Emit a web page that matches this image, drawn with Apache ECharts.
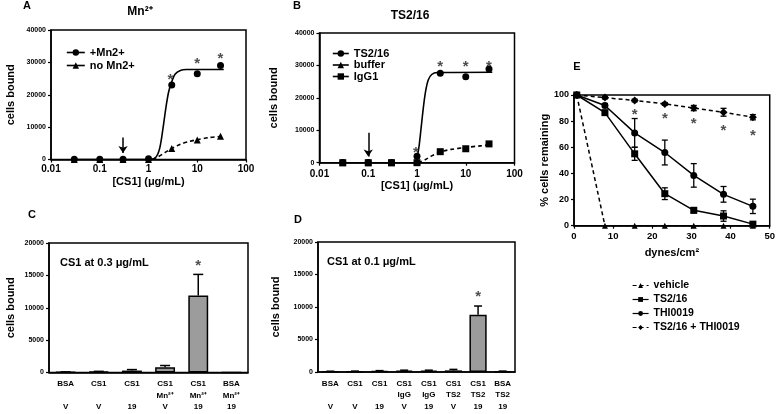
<!DOCTYPE html>
<html><head><meta charset="utf-8">
<script src="https://cdn.jsdelivr.net/npm/echarts@6/dist/echarts.min.js"></script>
<style>html,body{margin:0;padding:0;background:#fff}#c{width:778px;height:414px}</style>
</head><body><div id="c"></div>
<script>
// ---------- Panel A ----------
const concA = [0.03, 0.1, 0.3, 1, 3, 10, 30];
const mnPlus = [100, 100, 100, 200, 23000, 26500, 29000];
const noMn = [0, 0, 0, 0, 3400, 6000, 7200];
const fitMnPlus = [[0.03,0],[1,0],[1.4,600],[1.7,3500],[2,10000],[2.3,16500],[2.6,21000],[3,24000],[3.5,26300],[4.5,27500],[6,27800],[35,27800]];
const fitNoMn = [[1.2,0],[1.6,900],[2.2,2200],[3,3400],[4.5,4700],[7,5600],[10,6100],[18,6800],[35,7200]];
const starsA = [[2.8,25800],[10,30800],[30,32300]];
const arrowA = [[0.3,6800],[0.3,2000]];
// ---------- Panel B ----------
const concB = [0.03, 0.1, 0.3, 1, 3, 10, 30];
const ts216B = [100, 100, 100, 2000, 27600, 26500, 28900];
const bufferB = [0, 0, 0, 400, null, null, null];
const igg1B = [0, 0, 0, 0, 3400, 4300, 5800];
const fitTs216 = [[0.03,0],[0.9,0],[1,1500],[1.1,5000],[1.2,10000],[1.35,17000],[1.5,22000],[1.7,25500],[2,27200],[2.6,27800],[35,27900]];
const fitIgg1 = [[1.05,0],[1.5,1000],[2,2100],[3,3300],[5,4100],[10,4700],[20,5200],[35,5600]];
const starsB = [[0.95,4200],[3,30800],[10,30800],[30,30800]];
const arrowB = [[0.1,9200],[0.1,1900]];
const logTicks = ['0.01','0.1','1','10','100'];
// ---------- Panel C ----------
const catCtop = ['BSA','CS1','CS1','CS1','CS1','BSA'];
const catCmid = ['','','','Mn²⁺','Mn²⁺','Mn²⁺'];
const catCbot = ['V','V','19','V','19','19'];
const valsC = [60, 120, 300, 800, 11900, 0];
const errC = [40, 60, 150, 280, 3250, 0];
const starsC = [[4,17100]];
// ---------- Panel D ----------
const catDtop = ['BSA','CS1','CS1','CS1','CS1','CS1','CS1','BSA'];
const catDmid = ['','','','IgG','IgG','TS2','TS2','TS2'];
const catDbot = ['V','V','19','V','19','V','19','19'];
const valsD = [80, 100, 150, 200, 200, 250, 8800, 100];
const errD = [40, 40, 60, 80, 80, 150, 1350, 40];
const starsD = [[6,12100]];
// ---------- Panel E ----------
const shearX = [0.7, 7.9, 15.5, 23.2, 30.6, 38.2, 45.7];
const vehicleE = [100, 0, 0, 0, 0, 0, 0];
const ts216E = [100, 86.5, 55, 24.5, 11.8, 7.4, 1.2];
const ts216Err = [0, 1.5, 5, 4.5, 2, 4, 1];
const thiE = [100, 92, 71, 56, 38.5, 24, 14.8];
const thiErr = [0, 1.5, 11, 9.5, 9, 6, 5.5];
const comboE = [100, 98, 95.8, 93.2, 90, 86.8, 83];
const comboErr = [0, 1, 1, 1, 2, 3, 2];
const starsE = [[15.5,88],[23.2,84.5],[30.6,81],[38.2,76],[45.7,71.5]];

const FF = 'Liberation Sans, Arial, sans-serif';
const K = '#000';
const chart = echarts.init(document.getElementById('c'), null, {renderer:'canvas'});

function axisBase(fs){
  return {
    axisLine:{show:true, onZero:false, lineStyle:{color:K, width:1.5}},
    axisTick:{show:true, length:3, lineStyle:{color:K, width:1.2}},
    splitLine:{show:false},
    axisLabel:{color:K, fontWeight:'bold', fontFamily:FF, fontSize:fs}
  };
}
function nameStyle(){ return {color:K, fontWeight:'bold', fontFamily:FF, fontSize:11}; }
function logFmt(v){ const i = Math.round(Math.log10(v)) + 2; return logTicks[i] || ''; }
function plainFmt(v){ return String(v); }
function zip(x, y){ return x.map((v,i)=>[v, y[i]]); }
function catLabels(t,m,b){ return t.map((s,i)=>s+'\n'+m[i]+'\n'+b[i]); }

function starSeries(x, y, data){
  return {type:'scatter', xAxisIndex:x, yAxisIndex:y, data:data, symbolSize:1, itemStyle:{color:'rgba(0,0,0,0)'},
    label:{show:true, formatter:'*', position:'inside', offset:[0,4], color:'#222', fontWeight:'bold', fontFamily:FF, fontSize:15}, silent:true, z:10};
}
function errUp(capW){
  return function(params, api){
    const i = api.value(0), v = api.value(1), e = api.value(2);
    if (!e) return null;
    const p0 = api.coord([i, v]), p1 = api.coord([i, v + e]);
    return {type:'group', children:[
      {type:'line', shape:{x1:p0[0], y1:p0[1], x2:p1[0], y2:p1[1]}, style:{stroke:K, lineWidth:1.5}},
      {type:'line', shape:{x1:p1[0]-capW/2, y1:p1[1], x2:p1[0]+capW/2, y2:p1[1]}, style:{stroke:K, lineWidth:1.5}}
    ]};
  };
}
function errBoth(capW){
  return function(params, api){
    const x = api.value(0), v = api.value(1), e = api.value(2);
    if (!e) return null;
    const p0 = api.coord([x, v - e]), p1 = api.coord([x, v + e]);
    return {type:'group', children:[
      {type:'line', shape:{x1:p0[0], y1:p0[1], x2:p1[0], y2:p1[1]}, style:{stroke:K, lineWidth:1.3}},
      {type:'line', shape:{x1:p0[0]-capW/2, y1:p0[1], x2:p0[0]+capW/2, y2:p0[1]}, style:{stroke:K, lineWidth:1.3}},
      {type:'line', shape:{x1:p1[0]-capW/2, y1:p1[1], x2:p1[0]+capW/2, y2:p1[1]}, style:{stroke:K, lineWidth:1.3}}
    ]};
  };
}
function pointSeries(name, x, y, data, symbol, size){
  return {name:name, type:'line', xAxisIndex:x, yAxisIndex:y, data:data, symbol:symbol, symbolSize:size,
    itemStyle:{color:K}, lineStyle:{opacity:0, width:0}, z:5};
}
function curveSeries(x, y, data, dashed){
  return {type:'line', xAxisIndex:x, yAxisIndex:y, data:data, showSymbol:false, symbol:'none', smooth:0.3,
    lineStyle:{color:K, width:1.6, type: dashed ? [4,3] : 'solid'}, z:3, silent:true};
}
function arrowSeries(x, y, pts){
  return {type:'scatter', xAxisIndex:x, yAxisIndex:y, data:[], silent:true,
    markLine:{silent:true, symbol:['none','arrow'], symbolSize:7, animation:false, label:{show:false},
      lineStyle:{color:K, width:1.5, type:'solid'},
      data:[[{coord:pts[0]},{coord:pts[1]}]]}};
}
const gridStyle = {show:true, borderColor:K, borderWidth:1.5, backgroundColor:'transparent', containLabel:false};
const legText = {color:K, fontWeight:'bold', fontFamily:FF, fontSize:11};

const option = {
  animation:false,
  backgroundColor:'#fff',
  grid:[
    Object.assign({left:51, top:30, width:195, height:129.5}, gridStyle),
    Object.assign({left:319.5, top:33, width:195, height:129.7}, gridStyle),
    Object.assign({left:49, top:243, width:199, height:129.5}, gridStyle),
    Object.assign({left:318, top:242, width:197, height:130}, gridStyle),
    Object.assign({left:574, top:95, width:198, height:130.7}, gridStyle)
  ],
  xAxis:[
    Object.assign(axisBase(10), {gridIndex:0, type:'log', logBase:10, min:0.01, max:100, name:'[CS1] (μg/mL)', nameLocation:'middle', nameGap:17, nameTextStyle:nameStyle()}),
    Object.assign(axisBase(10), {gridIndex:1, type:'log', logBase:10, min:0.01, max:100, name:'[CS1] (μg/mL)', nameLocation:'middle', nameGap:16, nameTextStyle:nameStyle()}),
    Object.assign(axisBase(8), {gridIndex:2, type:'category', data:catLabels(catCtop,catCmid,catCbot), axisTick:{show:false}}),
    Object.assign(axisBase(8), {gridIndex:3, type:'category', data:catLabels(catDtop,catDmid,catDbot), axisTick:{show:false}}),
    Object.assign(axisBase(9.5), {gridIndex:4, type:'value', min:0, max:50, interval:10, name:'dynes/cm²', nameLocation:'middle', nameGap:22, nameTextStyle:nameStyle()})
  ],
  yAxis:[
    Object.assign(axisBase(7), {gridIndex:0, type:'value', min:0, max:40000, interval:10000, name:'cells bound', nameLocation:'middle', nameGap:35, nameTextStyle:nameStyle()}),
    Object.assign(axisBase(7), {gridIndex:1, type:'value', min:0, max:40000, interval:10000, name:'cells bound', nameLocation:'middle', nameGap:40, nameTextStyle:nameStyle()}),
    Object.assign(axisBase(7), {gridIndex:2, type:'value', min:0, max:20000, interval:5000, name:'cells bound', nameLocation:'middle', nameGap:33, nameTextStyle:nameStyle()}),
    Object.assign(axisBase(7), {gridIndex:3, type:'value', min:0, max:20000, interval:5000, name:'cells bound', nameLocation:'middle', nameGap:37, nameTextStyle:nameStyle()}),
    Object.assign(axisBase(9), {gridIndex:4, type:'value', min:0, max:100, interval:20, name:'% cells remaining', nameLocation:'middle', nameGap:23, nameTextStyle:nameStyle()})
  ],
  legend:[
    {data:['+Mn2+','no Mn2+'], left:61, top:42, orient:'vertical', itemWidth:18, itemHeight:8, itemGap:2, textStyle:legText,
      lineStyle:{color:K, width:1.6, type:'solid', opacity:1}},
    {data:['TS2/16','buffer','IgG1'], left:327, top:43, orient:'vertical', itemWidth:16, itemHeight:8, itemGap:0.5, textStyle:legText,
      lineStyle:{color:K, width:1.6, type:'solid', opacity:1}},
    {data:['vehicle','TS2/16 ','THI0019','TS2/16 + THI0019'], left:627, top:275, orient:'vertical', itemWidth:16, itemHeight:6, itemGap:3,
      textStyle:Object.assign({}, legText, {fontSize:10.5}), lineStyle:{color:K, width:1.2, opacity:1}}
  ],
  graphic:[
    {type:'text', x:27, y:6, style:{text:'A', font:'bold 11px '+FF, fill:K, align:'center', verticalAlign:'middle'}},
    {type:'text', x:140, y:12, style:{text:'Mn²⁺', font:'bold 12px '+FF, fill:K, align:'center', verticalAlign:'middle'}},
    {type:'text', x:297, y:6, style:{text:'B', font:'bold 11px '+FF, fill:K, align:'center', verticalAlign:'middle'}},
    {type:'text', x:410, y:16, style:{text:'TS2/16', font:'bold 12px '+FF, fill:K, align:'center', verticalAlign:'middle'}},
    {type:'text', x:32, y:215, style:{text:'C', font:'bold 11px '+FF, fill:K, align:'center', verticalAlign:'middle'}},
    {type:'text', x:298, y:220, style:{text:'D', font:'bold 11px '+FF, fill:K, align:'center', verticalAlign:'middle'}},
    {type:'text', x:577, y:67, style:{text:'E', font:'bold 11px '+FF, fill:K, align:'center', verticalAlign:'middle'}},
    {type:'text', x:60, y:263, style:{text:'CS1 at 0.3 μg/mL', font:'bold 11px '+FF, fill:K, align:'left', verticalAlign:'middle'}},
    {type:'text', x:327, y:262, style:{text:'CS1 at 0.1 μg/mL', font:'bold 11px '+FF, fill:K, align:'left', verticalAlign:'middle'}}
  ],
  series:[
    // A
    curveSeries(0,0,fitMnPlus,false),
    curveSeries(0,0,fitNoMn,true),
    pointSeries('+Mn2+',0,0,zip(concA,mnPlus),'circle',7),
    pointSeries('no Mn2+',0,0,zip(concA,noMn),'triangle',7),
    starSeries(0,0,starsA),
    arrowSeries(0,0,arrowA),
    // B
    curveSeries(1,1,fitTs216,false),
    curveSeries(1,1,fitIgg1,true),
    pointSeries('buffer',1,1,zip(concB,bufferB),'triangle',7),
    pointSeries('IgG1',1,1,zip(concB,igg1B),'rect',7),
    pointSeries('TS2/16',1,1,zip(concB,ts216B),'circle',7),
    starSeries(1,1,starsB),
    arrowSeries(1,1,arrowB),
    // C
    {type:'bar', xAxisIndex:2, yAxisIndex:2, data:valsC, barWidth:'60%', itemStyle:{color:'#9c9c9c', borderColor:K, borderWidth:1.5}, z:2},
    {type:'custom', xAxisIndex:2, yAxisIndex:2, data:valsC.map((v,i)=>[i,v,errC[i]]), renderItem:errUp(10), encode:{x:0,y:1}, z:4, silent:true},
    starSeries(2,2,starsC),
    // D
    {type:'bar', xAxisIndex:3, yAxisIndex:3, data:valsD, barWidth:'70%', itemStyle:{color:'#9c9c9c', borderColor:K, borderWidth:1.5}, z:2},
    {type:'custom', xAxisIndex:3, yAxisIndex:3, data:valsD.map((v,i)=>[i,v,errD[i]]), renderItem:errUp(8), encode:{x:0,y:1}, z:4, silent:true},
    starSeries(3,3,starsD),
    // E
    {name:'vehicle', type:'line', xAxisIndex:4, yAxisIndex:4, data:zip(shearX,vehicleE), symbol:'triangle', symbolSize:6, itemStyle:{color:K}, lineStyle:{color:K, width:1.5, type:[4,3]}, z:5},
    {name:'TS2/16 ', type:'line', xAxisIndex:4, yAxisIndex:4, data:zip(shearX,ts216E), symbol:'rect', symbolSize:7, itemStyle:{color:K}, lineStyle:{color:K, width:1.5}, z:5},
    {name:'THI0019', type:'line', xAxisIndex:4, yAxisIndex:4, data:zip(shearX,thiE), symbol:'circle', symbolSize:7, itemStyle:{color:K}, lineStyle:{color:K, width:1.5}, z:5},
    {name:'TS2/16 + THI0019', type:'line', xAxisIndex:4, yAxisIndex:4, data:zip(shearX,comboE), symbol:'diamond', symbolSize:8, itemStyle:{color:K}, lineStyle:{color:K, width:1.5, type:[4,3]}, z:5},
    {type:'custom', xAxisIndex:4, yAxisIndex:4, data:shearX.map((x,i)=>[x,ts216E[i],ts216Err[i]]), renderItem:errBoth(6), encode:{x:0,y:1}, z:6, silent:true},
    {type:'custom', xAxisIndex:4, yAxisIndex:4, data:shearX.map((x,i)=>[x,thiE[i],thiErr[i]]), renderItem:errBoth(6), encode:{x:0,y:1}, z:6, silent:true},
    {type:'custom', xAxisIndex:4, yAxisIndex:4, data:shearX.map((x,i)=>[x,comboE[i],comboErr[i]]), renderItem:errBoth(6), encode:{x:0,y:1}, z:6, silent:true},
    starSeries(4,4,starsE)
  ]
};
option.xAxis[0].axisLabel.formatter = logFmt;
option.xAxis[1].axisLabel.formatter = logFmt;
option.xAxis[0].axisLabel.margin = 5;
option.xAxis[1].axisLabel.margin = 7;
option.xAxis[2].axisLabel.margin = 6; option.xAxis[2].axisLabel.lineHeight = 11.5; option.xAxis[2].axisLabel.interval = 0;
option.xAxis[3].axisLabel.margin = 6; option.xAxis[3].axisLabel.lineHeight = 11.5; option.xAxis[3].axisLabel.interval = 0;
option.xAxis[4].axisLabel.margin = 6;
option.xAxis[4].axisLabel.formatter = plainFmt;
option.yAxis.forEach(a => { a.axisLabel.margin = 5; a.axisLabel.formatter = plainFmt; });
chart.setOption(option);
</script>
</body></html>
